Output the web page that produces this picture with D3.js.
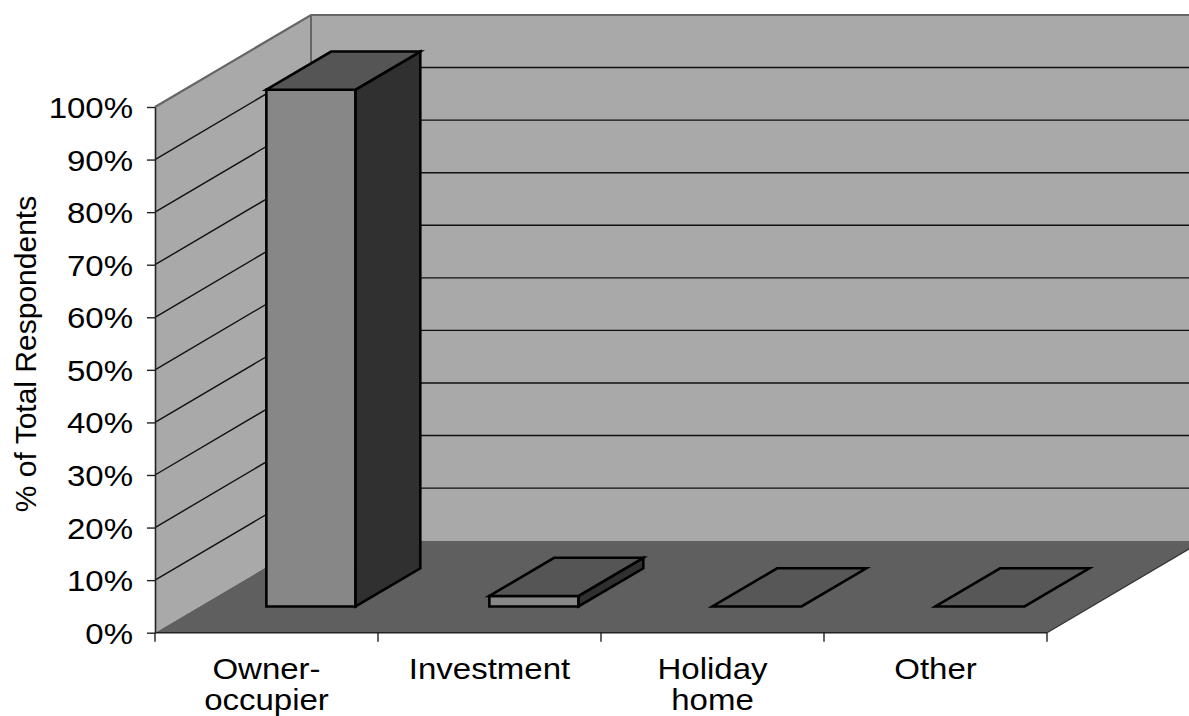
<!DOCTYPE html>
<html>
<head>
<meta charset="utf-8">
<script src="https://cdn.jsdelivr.net/npm/d3@7"></script>
<style>
  html, body { margin: 0; padding: 0; background: #fff; }
  svg { display: block; }
  text { font-family: "Liberation Sans", Arial, sans-serif; fill: #000; }
</style>
</head>
<body>
<svg id="chart" width="1189" height="716"></svg>
<script>
// Data
const categories = ["Owner-occupier", "Investment", "Holiday home", "Other"];
const categoryLines = [["Owner-", "occupier"], ["Investment"], ["Holiday", "home"], ["Other"]];
const values = [98.3, 2.0, 0, 0];
const yTicks = [0, 10, 20, 30, 40, 50, 60, 70, 80, 90, 100];
const yTitle = "% of Total Respondents";

// Layout
const W = 1189, H = 716;
const plot = { left: 155, right: 1047, top: 107, bottom: 632.7 };
const depth = { dx: 156, dy: -92 };       // oblique offset of the back plane
const barDepth = [0.285, 0.70];           // bar front/back as fraction of depth
const gapWidth = 1.5;                     // gap between bars relative to bar width
const fontSize = 30;
const textStretch = 1.1;                  // horizontal stretch of the lettering

const colors = {
  wall: "#a9a9a9", floor: "#5f5f5f", edge: "#666",
  front: "#878787", side: "#303030", top: "#555555", flat: "#575757"
};

const svg = d3.select("#chart");

const x = d3.scaleBand().domain(categories).range([plot.left, plot.right]).padding(0);
const y = d3.scaleLinear().domain([0, 100]).range([plot.bottom, plot.top]);
const z = d3.scaleLinear().domain([0, 1]).range([0, 1]);

// project (front-plane x, value, depth fraction) to screen
function P(px, v, d) {
  return [px + depth.dx * z(d), y(v) + depth.dy * z(d)];
}
const poly = pts => "M" + pts.map(p => p.join(",")).join("L") + "Z";

// Walls
const walls = svg.append("g");
walls.append("path")
  .attr("d", poly([P(plot.left, 0, 0), P(plot.left, 100, 0), P(plot.left, 100, 1), P(plot.left, 0, 1)]))
  .attr("fill", colors.wall);
walls.append("path")
  .attr("d", poly([P(plot.left, 0, 1), P(plot.left, 100, 1), P(plot.right, 100, 1), P(plot.right, 0, 1)]))
  .attr("fill", colors.wall);

// Gridlines on side and back wall
const grid = svg.append("g").attr("fill", "none");
yTicks.filter(t => t > 0 && t < 100).forEach(t => {
  const a = P(plot.left, t, 0), b = P(plot.left, t, 1), c = P(plot.right, t, 1);
  grid.append("path").attr("d", `M${a}L${b}L${c}`).attr("stroke", "#111").attr("stroke-width", 1.4);
});
// top and back edges of the walls
{
  const a = P(plot.left, 100, 0), b = P(plot.left, 100, 1), c = P(plot.right, 100, 1);
  grid.append("path").attr("d", `M${a}L${b}L${c}`).attr("stroke", colors.edge).attr("stroke-width", 2.2);
  const d = P(plot.left, 0, 1);
  grid.append("path").attr("d", `M${b}L${d}`).attr("stroke", colors.edge).attr("stroke-width", 2);
}

// Floor
svg.append("path")
  .attr("d", poly([P(plot.left, 0, 0), P(plot.right, 0, 0), P(plot.right, 0, 1), P(plot.left, 0, 1)]))
  .attr("fill", colors.floor);
svg.append("path")
  .attr("d", `M${P(plot.right, 0, 0)}L${P(plot.right, 0, 1)}`)
  .attr("stroke", "#333").attr("stroke-width", 1.2);

// Bars
const bw = x.bandwidth() / (1 + gapWidth);
const bars = svg.append("g").attr("stroke", "#000").attr("stroke-width", 2.6).attr("stroke-linejoin", "miter");
categories.forEach((c, i) => {
  const v = values[i];
  const cx = x(c) + x.bandwidth() / 2;
  const l = cx - bw / 2, r = cx + bw / 2;
  const [z0, z1] = barDepth;
  if (v <= 0) {
    bars.append("path")
      .attr("d", poly([P(l, 0, z0), P(r, 0, z0), P(r, 0, z1), P(l, 0, z1)]))
      .attr("fill", colors.flat);
    return;
  }
  bars.append("path")
    .attr("d", poly([P(l, 0, z0), P(r, 0, z0), P(r, v, z0), P(l, v, z0)]))
    .attr("fill", colors.front);
  bars.append("path")
    .attr("d", poly([P(r, 0, z0), P(r, 0, z1), P(r, v, z1), P(r, v, z0)]))
    .attr("fill", colors.side);
  bars.append("path")
    .attr("d", poly([P(l, v, z0), P(r, v, z0), P(r, v, z1), P(l, v, z1)]))
    .attr("fill", colors.top);
});

// Y axis
const yAxis = svg.append("g")
  .attr("transform", `translate(${plot.left},0)`)
  .call(d3.axisLeft(y).tickValues(yTicks).tickSize(8).tickSizeOuter(0).tickPadding(12)
    .tickFormat(d => d + "%"));
yAxis.select(".domain").attr("stroke", "#222").attr("stroke-width", 1.6);
yAxis.selectAll(".tick line").attr("stroke", "#222").attr("stroke-width", 1.4);
yAxis.selectAll(".tick text")
  .attr("font-size", fontSize)
  .attr("font-family", "Liberation Sans, Arial, sans-serif")
  .attr("fill", "#000")
  .attr("dy", "0.35em")
  .attr("transform", `scale(${textStretch},1)`);

// X axis: ticks at category boundaries, labels centred in each band
const bounds = categories.map(c => x(c)).concat([plot.right]);
const xAxis = svg.append("g");
xAxis.append("line")
  .attr("x1", plot.left).attr("x2", plot.right)
  .attr("y1", plot.bottom).attr("y2", plot.bottom)
  .attr("stroke", "#222").attr("stroke-width", 1.6);
xAxis.selectAll("line.tick").data(bounds).join("line")
  .attr("class", "tick")
  .attr("x1", d => d).attr("x2", d => d)
  .attr("y1", plot.bottom).attr("y2", plot.bottom + 9)
  .attr("stroke", "#222").attr("stroke-width", 1.4);

const labels = xAxis.selectAll("g.label").data(categories).join("g")
  .attr("class", "label")
  .attr("transform", c => `translate(${x(c) + x.bandwidth() / 2},679) scale(${textStretch},1)`);
labels.append("text")
  .attr("text-anchor", "middle")
  .attr("font-size", fontSize)
  .selectAll("tspan").data((c, i) => categoryLines[i]).join("tspan")
  .attr("x", 0)
  .attr("y", (d, j) => j * 31)
  .text(d => d);

// Y axis title
svg.append("text")
  .attr("transform", `translate(36,354) rotate(-90)`)
  .attr("text-anchor", "middle")
  .attr("font-size", fontSize)
  .text(yTitle);
</script>
</body>
</html>
